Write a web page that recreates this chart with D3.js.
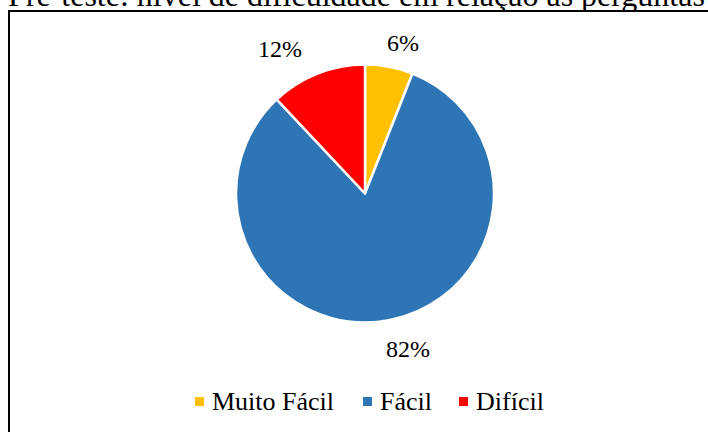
<!DOCTYPE html>
<html>
<head>
<meta charset="utf-8">
<script src="https://cdn.jsdelivr.net/npm/d3@7"></script>
<style>
  html, body { margin: 0; padding: 0; background: #fff; overflow: hidden; }
  svg { display: block; }
</style>
</head>
<body>
<svg id="chart" width="708" height="432"></svg>
<script>
// Pre-test: perceived difficulty of the questions
const titleText = "Pré-teste: nível de dificuldade em relação às perguntas";
const categories = ["Muito Fácil", "Fácil", "Difícil"];
const values = [6, 82, 12];
const colors = ["#FFC000", "#2E75B6", "#FF0000"];

const FONT = '"Liberation Serif"';

const svg = d3.select("#chart");
const W = 708, H = 432;

// title (drawn first so the chart frame sits on top of it)
svg.append("text")
  .attr("x", 8).attr("y", 6)
  .style("font-family", FONT)
  .style("font-size", "32px")
  .text(titleText);

// chart frame
svg.append("rect")
  .attr("x", 9).attr("y", 11)
  .attr("width", W + 20).attr("height", H + 20)
  .attr("fill", "#fff")
  .attr("stroke", "#000")
  .attr("stroke-width", 2);

const cx = 365, cy = 193.5, r = 129;
const g = svg.append("g").attr("transform", `translate(${cx},${cy})`);

const pie = d3.pie().sort(null).value(d => d.value);
const arcs = pie(categories.map((c, i) => ({ name: c, value: values[i], color: colors[i] })));
const arc = d3.arc().innerRadius(0).outerRadius(r);

g.selectAll("path.slice")
  .data(arcs)
  .join("path")
  .attr("class", "slice")
  .attr("d", arc)
  .attr("fill", d => d.data.color)
  .attr("stroke", "#fff")
  .attr("stroke-width", 2.5)
  .attr("stroke-linejoin", "round");

// percentage labels, placed outside the slices
const labelArc = d3.arc().innerRadius(r * 1.2).outerRadius(r * 1.2);
const labelOffsets = [
  { dx: 9, dy: 1.5 },
  { dx: 14, dy: 3 },
  { dx: -28, dy: -1 }
];
g.selectAll("text.pct")
  .data(arcs)
  .join("text")
  .attr("class", "pct")
  .style("font-family", FONT)
  .style("font-size", "24px")
  .attr("text-anchor", "middle")
  .attr("x", (d, i) => labelArc.centroid(d)[0] + labelOffsets[i].dx)
  .attr("y", (d, i) => labelArc.centroid(d)[1] + labelOffsets[i].dy)
  .attr("dy", "0.35em")
  .text(d => d3.format(".0%")(d.data.value / 100));

// legend
const legend = svg.append("g").attr("transform", "translate(0,410)");
const legendX = [195, 363, 459];
const items = legend.selectAll("g.item")
  .data(categories)
  .join("g")
  .attr("class", "item")
  .attr("transform", (d, i) => `translate(${legendX[i]},0)`);
items.append("rect")
  .attr("x", 0).attr("y", -13)
  .attr("width", 9).attr("height", 9)
  .attr("fill", (d, i) => colors[i]);
items.append("text")
  .attr("x", 17).attr("y", 0)
  .style("font-family", FONT)
  .style("font-size", "26px")
  .text(d => d);
</script>
</body>
</html>
